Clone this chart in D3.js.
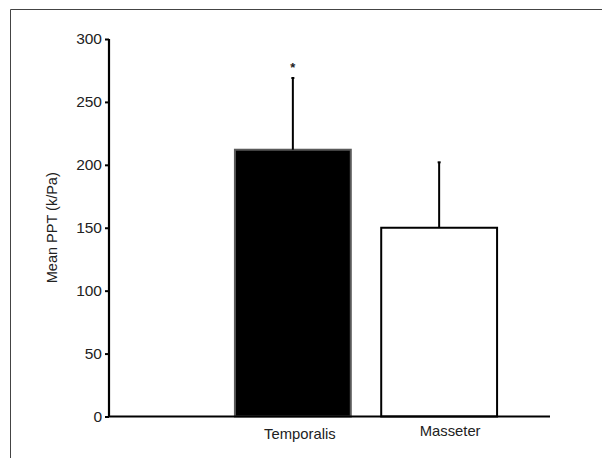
<!DOCTYPE html>
<html><head><meta charset="utf-8">
<script src="https://cdn.jsdelivr.net/npm/d3@7"></script>
<style>body{margin:0;background:#fff;} svg{display:block;}</style>
</head><body>
<svg id="c" width="602" height="458"></svg>
<script>
const categories = ["Temporalis", "Masseter"];
const means = [212, 150];
const errors = [57, 52];
const significance = ["*", ""];
const fills = ["#000000", "#ffffff"];
const strokes = ["#5a5a5a", "#000000"];
const yTicks = [0, 50, 100, 150, 200, 250, 300];
const yTitle = "Mean PPT (k/Pa)";
const labelDx = [7, 11];
const labelDy = [0, -3];

const svg = d3.select("#c");
const font = "'Liberation Sans', Arial, Helvetica, sans-serif";
const textColor = "#222";

// frame
svg.append("path").attr("d", "M10.5,458 V9.5 H602").attr("fill", "none")
  .attr("stroke", "#444").attr("stroke-width", 1);

const y = d3.scaleLinear().domain([0, 300]).range([416.5, 39]);
const x = d3.scaleBand().domain(categories).range([204.5, 527.5]).padding(0.208);
const axisX0 = 109, axisX1 = 550;

// bars
svg.selectAll("rect.bar").data(categories).join("rect")
  .attr("x", d => x(d))
  .attr("y", (d, i) => y(means[i]))
  .attr("width", x.bandwidth())
  .attr("height", (d, i) => y(0) - y(means[i]))
  .attr("fill", (d, i) => fills[i])
  .attr("stroke", (d, i) => strokes[i])
  .attr("stroke-width", 2);

// error bars
categories.forEach((c, i) => {
  const cx = x(c) + x.bandwidth() / 2;
  svg.append("line").attr("x1", cx).attr("x2", cx)
    .attr("y1", y(means[i])).attr("y2", y(means[i] + errors[i]))
    .attr("stroke", "#000").attr("stroke-width", 2);
  svg.append("line").attr("x1", cx - 1.5).attr("x2", cx + 1.5)
    .attr("y1", y(means[i] + errors[i])).attr("y2", y(means[i] + errors[i]))
    .attr("stroke", "#000").attr("stroke-width", 2);
  if (significance[i]) {
    svg.append("text").attr("x", cx).attr("y", y(means[i] + errors[i]) - 6)
      .attr("text-anchor", "middle").attr("font-family", font).attr("font-size", 13)
      .attr("font-weight", "bold").attr("fill", "#222").text(significance[i]);
  }
});

// y axis
const yAxis = d3.axisLeft(y).tickValues(yTicks).tickSize(4).tickPadding(3).tickFormat(d3.format("d"));
const ya = svg.append("g").attr("transform", `translate(${axisX0},0)`).call(yAxis);
ya.select(".domain").attr("stroke", "#000").attr("stroke-width", 2.2)
  .attr("d", `M0,${y(300)}V${y(0)}`);
ya.selectAll(".tick line").attr("stroke", "#000").attr("stroke-width", 2);
ya.selectAll(".tick text").attr("font-family", font).attr("font-size", 15.5)
  .attr("fill", textColor);

// x axis line
const xAxisScale = d3.scaleLinear().domain([0, 1]).range([axisX0, axisX1]);
svg.append("line").attr("x1", xAxisScale(0) - 1).attr("x2", xAxisScale(1))
  .attr("y1", y(0)).attr("y2", y(0)).attr("stroke", "#000").attr("stroke-width", 2.2);

// x labels
svg.selectAll("text.xl").data(categories).join("text")
  .attr("class", "xl")
  .attr("x", (d, i) => x(d) + x.bandwidth() / 2 + labelDx[i])
  .attr("y", (d, i) => 439 + labelDy[i])
  .attr("text-anchor", "middle").attr("font-family", font).attr("font-size", 14.8)
  .attr("fill", textColor).text(d => d);

// y title
svg.append("text").attr("transform", `translate(57,${(y(0) + y(300)) / 2}) rotate(-90)`)
  .attr("text-anchor", "middle").attr("font-family", font).attr("font-size", 14.5)
  .attr("fill", textColor).text(yTitle);
</script>
</body></html>
